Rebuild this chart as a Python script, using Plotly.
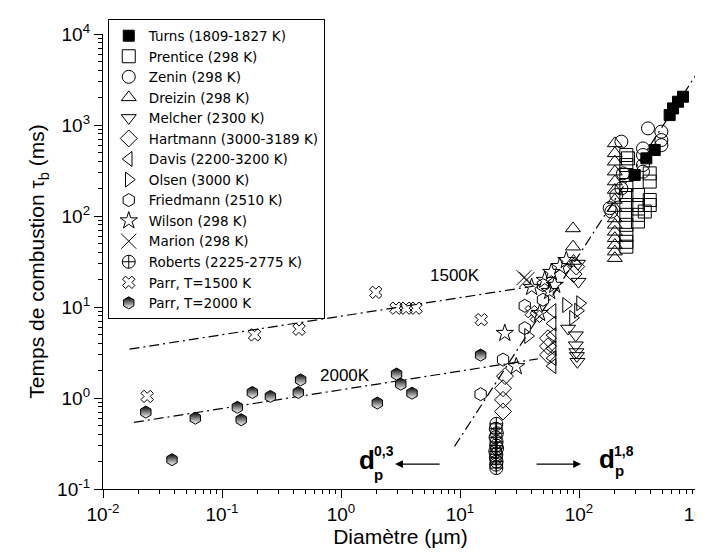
import numpy as np
import plotly.graph_objects as go

# ---------------- data ----------------
turns_x = [294, 368, 433, 578, 617, 679, 748]
turns_y = [282, 430, 531, 1285, 1521, 1802, 2045]

prentice_x = [250, 250, 250, 250, 250, 250, 250, 250, 250, 250, 250, 258, 313, 313, 313, 313, 393, 393, 393, 393, 357]
prentice_y = [468, 363, 282, 219, 170, 132, 103, 80, 62, 52, 46, 430, 170, 132, 103, 87, 294, 239, 150, 132, 112]

zenin_x = [227, 380, 492, 492, 492, 345, 345, 345, 345, 234, 206, 187, 181, 227]
zenin_y = [656, 918, 844, 683, 601, 553, 468, 363, 307, 294, 170, 112, 122, 201]

dreizin_x = [200] * 15 + [89, 89, 90]
dreizin_y = [628, 488, 395, 307, 239, 193, 150, 122, 94, 80, 67, 57, 48, 40.6, 34.4, 73, 46, 32]

melcher_x = [94, 94, 95, 96, 97, 81, 98, 99]
melcher_y = [4.9, 3.8, 3.2, 2.9, 2.5, 5.8, 30, 19]

hartmann_x = [23, 23, 23, 23.9, 54.9, 54.9, 54.9, 94.9, 90]
hartmann_y = [0.71, 0.955, 1.28, 1.74, 2.98, 3.71, 4.54, 27.8, 23]

davis_x = [60, 60, 60, 60, 60, 60]
davis_y = [9.0, 6.6, 4.9, 3.5, 2.74, 2.24]

olsen_x = [37.3, 77.8, 98, 102, 89]
olsen_y = [4.8, 10.5, 9.1, 11.0, 7.6]

friedmann_x = [14.9, 23, 35, 35, 49.8, 49.8]
friedmann_y = [1.10, 2.64, 5.85, 10.3, 12.0, 17.4]

wilson_x = [23.8, 29.7, 78.2, 58.5, 51.5, 62.5, 56.7, 46.7, 40, 69]
wilson_y = [5.15, 2.22, 32.6, 24.1, 19.7, 17.4, 14.9, 8.55, 16.5, 28]

marion_x = [34.5, 36.5]
marion_y = [21, 20]

roberts_x = [20.2, 20.0, 20.4, 19.9, 20.3, 20.1, 20.5, 19.8, 20.2, 20.0, 20.3, 20.1, 20.2]
roberts_y = [0.52, 0.46, 0.41, 0.37, 0.33, 0.30, 0.28, 0.26, 0.24, 0.22, 0.20, 0.185, 0.17]

parr1500_x = [0.0235, 0.188, 0.444, 1.96, 2.9, 3.52, 4.27, 15.1, 39.7, 43.8]
parr1500_y = [1.04, 4.94, 5.7, 14.5, 9.7, 9.7, 9.7, 7.26, 8.9, 7.9]

parr2000_x = [0.0229, 0.038, 0.0597, 0.1346, 0.145, 0.18, 0.255, 0.438, 0.458, 2.02, 2.93, 3.18, 3.95, 14.9]
parr2000_y = [0.70, 0.21, 0.60, 0.79, 0.577, 1.15, 1.04, 1.15, 1.58, 0.88, 1.83, 1.42, 1.13, 2.96]

# fit lines
line1500_x = [0.0167, 41]
line1500_y = [3.44, 16.9]
line2000_x = [0.0182, 45]
line2000_y = [0.54, 2.69]
linefit_x = [9.0, 1000]
linefit_y = [0.294, 3845]

series = [
    ("Turns (1809-1827 K)", turns_x, turns_y, "square", 11),
    ("Prentice (298 K)", prentice_x, prentice_y, "square-open", 13),
    ("Zenin (298 K)", zenin_x, zenin_y, "circle-open", 13),
    ("Dreizin (298 K)", dreizin_x, dreizin_y, "triangle-up-open", 13),
    ("Melcher (2300 K)", melcher_x, melcher_y, "triangle-down-open", 13),
    ("Hartmann (3000-3189 K)", hartmann_x, hartmann_y, "diamond-open", 13),
    ("Davis (2200-3200 K)", davis_x, davis_y, "triangle-left-open", 13),
    ("Olsen (3000 K)", olsen_x, olsen_y, "triangle-right-open", 13),
    ("Friedmann (2510 K)", friedmann_x, friedmann_y, "hexagon-open", 13),
    ("Wilson (298 K)", wilson_x, wilson_y, "star-open", 13),
    ("Marion (298 K)", marion_x, marion_y, "x-thin-open", 15),
    ("Roberts (2225-2775 K)", roberts_x, roberts_y, "circle-cross-open", 13),
    ("Parr, T=1500 K", parr1500_x, parr1500_y, "x-open", 11),
    ("Parr, T=2000 K", parr2000_x, parr2000_y, "hexagon", 12),
]

x_tickvals = [1e-2, 1e-1, 1e0, 1e1, 1e2, 1e3]
x_ticktext = ["10<sup>-2</sup>", "10<sup>-1</sup>", "10<sup>0</sup>", "10<sup>1</sup>", "10<sup>2</sup>", "10<sup>3</sup>"]
y_tickvals = [1e-1, 1e0, 1e1, 1e2, 1e3, 1e4]
y_ticktext = ["10<sup>-1</sup>", "10<sup>0</sup>", "10<sup>1</sup>", "10<sup>2</sup>", "10<sup>3</sup>", "10<sup>4</sup>"]

x_minor = [10.0 ** d * m for d in range(-2, 3) for m in range(2, 10)]
y_minor = [10.0 ** d * m for d in range(-1, 4) for m in range(2, 10)]

FONT = "Liberation Sans, Arial, sans-serif"

fig = go.Figure()

dash = "10px,4px,2px,4px"
for lx, ly in [(line1500_x, line1500_y), (line2000_x, line2000_y), (linefit_x, linefit_y)]:
    fig.add_trace(go.Scatter(x=lx, y=ly, mode="lines", showlegend=False,
                             line=dict(color="black", width=1.2, dash=dash), hoverinfo="skip"))

for name, xs, ys, sym, sz in series:
    marker = dict(symbol=sym, size=sz, color="black", line=dict(color="black", width=1))
    if name == "Parr, T=2000 K":
        marker.update(gradient=dict(type="vertical", color="white"))
    fig.add_trace(go.Scatter(x=xs, y=ys, mode="markers", name=name, marker=marker))

annotations = []
# temperature labels
for txt, ax_, ay_ in [("1500K", 9.1, 22.3), ("2000K", 1.08, 1.78)]:
    annotations.append(dict(x=np.log10(ax_), y=np.log10(ay_), xref="x", yref="y", text=txt,
                            showarrow=False, font=dict(family=FONT, size=17, color="black")))
# arrows
annotations.append(dict(x=np.log10(2.85), y=np.log10(0.188), xref="x", yref="y", text="",
                        showarrow=True, ax=46, ay=0, arrowhead=2, arrowsize=1.2, arrowwidth=1.3,
                        arrowcolor="black"))
annotations.append(dict(x=np.log10(104), y=np.log10(0.188), xref="x", yref="y", text="",
                        showarrow=True, ax=-46, ay=0, arrowhead=2, arrowsize=1.2, arrowwidth=1.3,
                        arrowcolor="black"))
# d_p labels
for d_pos, sup_txt, sup_pos, p_pos in [
    ((0.218, -0.682), "0,3", (0.361, -0.583), (0.315, -0.836)),
    ((2.235, -0.671), "1,8", (2.378, -0.583), (2.340, -0.802)),
]:
    annotations.append(dict(x=d_pos[0], y=d_pos[1], xref="x", yref="y", text="<b>d</b>",
                            showarrow=False, font=dict(family=FONT, size=26, color="black")))
    annotations.append(dict(x=sup_pos[0], y=sup_pos[1], xref="x", yref="y", text="<b>" + sup_txt + "</b>",
                            showarrow=False, font=dict(family=FONT, size=14, color="black")))
    annotations.append(dict(x=p_pos[0], y=p_pos[1], xref="x", yref="y", text="<b>p</b>",
                            showarrow=False, font=dict(family=FONT, size=15, color="black")))

axis_common = dict(
    type="log", showgrid=False, zeroline=False, showline=True, linecolor="black", linewidth=1.3,
    ticks="outside", ticklen=8, tickwidth=1.3, tickcolor="black", tickmode="array",
    tickfont=dict(family=FONT, size=19, color="black"), mirror=False,
    ticklabeloverflow="allow", automargin=False,
)

fig.update_layout(
    width=703, height=552,
    margin=dict(l=95, r=13, t=25.5, b=71, pad=0, autoexpand=False),
    paper_bgcolor="white", plot_bgcolor="white",
    font=dict(family=FONT, color="black"),
    xaxis=dict(axis_common, range=[-2, 3], tickvals=x_tickvals, ticktext=x_ticktext,
               minor=dict(tickvals=x_minor, ticks="outside", ticklen=4, tickwidth=1.1, tickcolor="black"),
               title=dict(text="Diamètre (µm)", font=dict(family=FONT, size=21, color="black"), standoff=2)),
    yaxis=dict(axis_common, range=[-1, 4], tickvals=y_tickvals, ticktext=y_ticktext,
               minor=dict(tickvals=y_minor, ticks="outside", ticklen=4, tickwidth=1.1, tickcolor="black"),
               title=dict(text="Temps de combustion τ<sub>b</sub> (ms)", font=dict(family=FONT, size=21, color="black"), standoff=6)),
    legend=dict(x=0.008, y=1.032, xanchor="left", yanchor="top",
                bordercolor="black", borderwidth=1, bgcolor="rgba(0,0,0,0)",
                font=dict(family="DejaVu Sans, sans-serif", size=13.5, color="black"),
                tracegroupgap=0, maxheight=420),
    annotations=annotations,
    showlegend=True,
)

fig.write_html("out.html")
